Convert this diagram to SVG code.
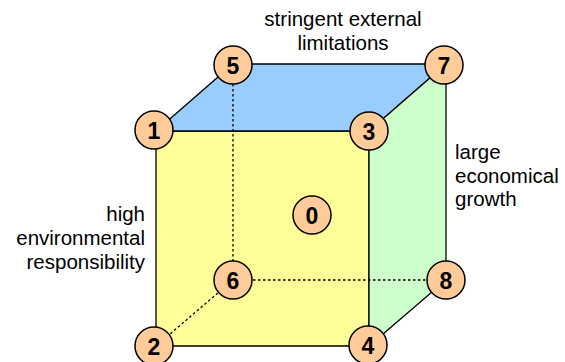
<svg xmlns="http://www.w3.org/2000/svg" width="565" height="362" viewBox="0 0 565 362">
<style>
.face{stroke:#000;stroke-width:1.3;stroke-linejoin:miter}
.dot{fill:none;stroke:#000;stroke-width:1.3;stroke-dasharray:2.5,2.5}
.node circle{fill:#FFCC99;stroke:#000;stroke-width:1.5}
.node text{font-family:"Liberation Sans",Arial,sans-serif;font-weight:bold;font-size:23px;text-anchor:middle;fill:#000}
.lbl{font-family:"Liberation Sans",Arial,sans-serif;font-size:20.5px;fill:#000}
</style>
<rect width="565" height="362" fill="#fff"/>
<g id="faces">
<polygon class="face" points="156,131 369,131 369,346 156,346" fill="#FFFF99"/>
<polygon class="face" points="156,131 233,64 446,64 369,131" fill="#99CCFF"/>
<polygon class="face" points="369,131 446,64 446,280 369,346" fill="#CCFFCC"/>
</g>
<g id="connectors">
<line class="dot" x1="233" y1="64" x2="233" y2="280"/>
<line class="dot" x1="233" y1="280" x2="446" y2="280"/>
<line class="dot" x1="233" y1="280" x2="156" y2="346"/>
</g>
<g id="n1" class="node"><circle cx="154" cy="130" r="19"/><text x="154" y="138.5">1</text></g>
<g id="n5" class="node"><circle cx="233" cy="65" r="19"/><text x="233" y="73.5">5</text></g>
<g id="n7" class="node"><circle cx="444" cy="65" r="19"/><text x="444" y="73.5">7</text></g>
<g id="n3" class="node"><circle cx="369" cy="131" r="19"/><text x="369" y="139.5">3</text></g>
<g id="n0" class="node"><circle cx="312" cy="215" r="19"/><text x="312" y="223.5">0</text></g>
<g id="n6" class="node"><circle cx="233" cy="280" r="19"/><text x="233" y="288.5">6</text></g>
<g id="n8" class="node"><circle cx="446" cy="280" r="19"/><text x="446" y="288.5">8</text></g>
<g id="n2" class="node"><circle cx="154" cy="346" r="19"/><text x="154" y="354.5">2</text></g>
<g id="n4" class="node"><circle cx="368" cy="345" r="19"/><text x="368" y="353.5">4</text></g>
<g id="labels">
<text class="lbl" x="343" y="26" text-anchor="middle">stringent external</text>
<text class="lbl" x="343" y="50" text-anchor="middle">limitations</text>
<text class="lbl" x="455" y="159">large</text>
<text class="lbl" x="455" y="183">economical</text>
<text class="lbl" x="455" y="206">growth</text>
<text class="lbl" x="145" y="221" text-anchor="end">high</text>
<text class="lbl" x="145" y="245" text-anchor="end">environmental</text>
<text class="lbl" x="145" y="269" text-anchor="end">responsibility</text>
</g>
</svg>
